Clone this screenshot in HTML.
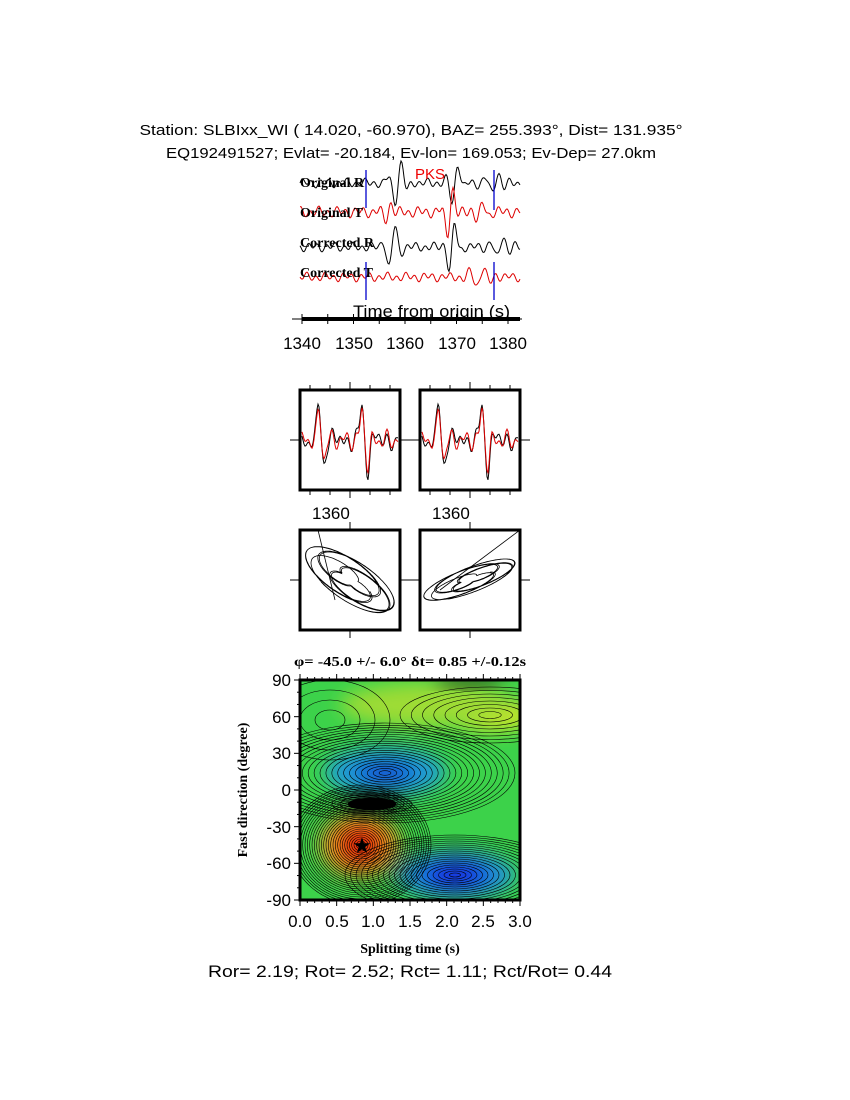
<!DOCTYPE html>
<html><head><meta charset="utf-8">
<style>
html,body{margin:0;padding:0;background:#fff;}
svg{display:block;}
.s{font-family:"Liberation Sans",sans-serif;}
.b{font-family:"Liberation Serif",serif;font-weight:bold;}
</style></head>
<body>
<svg id="sv" width="850" height="1100" viewBox="0 0 850 1100" xmlns="http://www.w3.org/2000/svg">
<defs>
<filter id="bl" x="-50%" y="-50%" width="200%" height="200%"><feGaussianBlur stdDeviation="9"/></filter>
<clipPath id="cp"><rect x="300" y="680" width="220" height="220"/></clipPath>
<clipPath id="c3"><rect x="300" y="530" width="100" height="100"/></clipPath>
<clipPath id="c4"><rect x="420" y="530" width="100" height="100"/></clipPath>
</defs>
<text class="s" x="411" y="135" font-size="15" text-anchor="middle" textLength="543" lengthAdjust="spacingAndGlyphs">Station: SLBIxx_WI (  14.020,  -60.970), BAZ=  255.393°, Dist=  131.935°</text>
<text class="s" x="411" y="158" font-size="15" text-anchor="middle" textLength="490" lengthAdjust="spacingAndGlyphs">EQ192491527; Evlat= -20.184, Ev-lon= 169.053; Ev-Dep= 27.0km</text>

<g id="waves"></g>
<text class="b" x="300" y="187" font-size="14">Original R</text>
<text class="b" x="300" y="217" font-size="14">Original T</text>
<text class="b" x="300" y="247" font-size="14">Corrected R</text>
<text class="b" x="300" y="277" font-size="14">Corrected T</text>
<text class="s" x="415" y="179" font-size="15" fill="#e00">PKS</text>
<line x1="366" y1="170" x2="366" y2="208" stroke="#00c" stroke-width="1.3"/>
<line x1="494" y1="170" x2="494" y2="210" stroke="#00c" stroke-width="1.3"/>
<line x1="366" y1="262" x2="366" y2="300" stroke="#00c" stroke-width="1.3"/>
<line x1="494" y1="262" x2="494" y2="300" stroke="#00c" stroke-width="1.3"/>
<text class="s" x="353" y="317" font-size="17" textLength="157" lengthAdjust="spacingAndGlyphs">Time from origin (s)</text>
<line x1="292" y1="319" x2="522" y2="319" stroke="#000" stroke-width="1"/>
<line x1="302" y1="319" x2="520" y2="319" stroke="#000" stroke-width="4"/>
<g id="wt"></g>
<g class="s" font-size="17" text-anchor="middle">
<text x="302" y="349">1340</text><text x="354" y="349">1350</text><text x="405" y="349">1360</text><text x="457" y="349">1370</text><text x="508" y="349">1380</text>
</g>

<g id="pm"></g>
<text class="s" x="312" y="519" font-size="17">1360</text>
<text class="s" x="432" y="519" font-size="17">1360</text>

<g clip-path="url(#cp)">
<rect x="300" y="680" width="220" height="220" fill="#3cd24a"/>
<g filter="url(#bl)">
<ellipse cx="490" cy="715" rx="45" ry="16" fill="#d8e824"/>
<ellipse cx="430" cy="705" rx="90" ry="22" fill="#9edc34"/>
<ellipse cx="385" cy="772" rx="60" ry="24" fill="#1a9ad8"/>
<ellipse cx="385" cy="773" rx="30" ry="12" fill="#1450d0"/>
<ellipse cx="455" cy="875" rx="60" ry="24" fill="#1e8fd6"/>
<ellipse cx="455" cy="875" rx="34" ry="14" fill="#1420e0"/>
<ellipse cx="360" cy="845" rx="40" ry="32" fill="#f0a020"/>
<ellipse cx="360" cy="845" rx="24" ry="22" fill="#e82a10"/>
</g>
<ellipse cx="372" cy="803" rx="30" ry="9" fill="#000" filter="url(#bl)" opacity="0.9"/>
<ellipse cx="372" cy="804" rx="24" ry="6" fill="#000"/>
<ellipse cx="470" cy="683" rx="35" ry="4" fill="#000" filter="url(#bl)"/>
<g id="ct" fill="none" stroke="#000" stroke-width="0.6"></g>
</g>
<rect x="300" y="680" width="220" height="220" fill="none" stroke="#000" stroke-width="3"/>
<text x="362" y="853" font-size="22" text-anchor="middle">★</text>
<g id="cax"></g>
<g class="s" font-size="17" text-anchor="end">
<text x="291" y="686">90</text><text x="291" y="723">60</text><text x="291" y="759">30</text><text x="291" y="796">0</text><text x="291" y="833">-30</text><text x="291" y="869">-60</text><text x="291" y="906">-90</text>
</g>
<g class="s" font-size="17" text-anchor="middle">
<text x="300" y="927">0.0</text><text x="337" y="927">0.5</text><text x="373" y="927">1.0</text><text x="410" y="927">1.5</text><text x="447" y="927">2.0</text><text x="483" y="927">2.5</text><text x="520" y="927">3.0</text>
</g>
<text class="b" x="410" y="666" font-size="14" text-anchor="middle" textLength="232" lengthAdjust="spacingAndGlyphs">φ= -45.0 +/- 6.0° δt= 0.85 +/-0.12s</text>
<text class="b" x="0" y="0" font-size="14" text-anchor="middle" transform="translate(247,790) rotate(-90)">Fast direction (degree)</text>
<text class="b" x="410" y="953" font-size="14" text-anchor="middle">Splitting time (s)</text>
<text class="s" x="410" y="977" font-size="17" text-anchor="middle" textLength="404" lengthAdjust="spacingAndGlyphs">Ror= 2.19; Rot= 2.52; Rct= 1.11; Rct/Rot= 0.44</text>
</svg>
<script>
var NS="http://www.w3.org/2000/svg";
function el(p,t,a){var e=document.createElementNS(NS,t);for(var k in a)e.setAttribute(k,a[k]);p.appendChild(e);return e;}
function wave(y0,amp,col,big,ph,x0,x1){var d="",n=0;for(var x=x0;x<=x1;x+=1){var t=(x-x0);
var a=amp*(Math.sin(t*0.7+ph)*0.6+Math.sin(t*0.31+ph*2)*0.4);
for(var i=0;i<big.length;i++){var b=big[i];a+=b[1]*Math.exp(-Math.pow((x-b[0])/b[2],2))*Math.sin((x-b[0])*0.45);}
d+=(n++?"L":"M")+x+","+(y0-a).toFixed(1);}
el(document.getElementById("waves"),"path",{d:d,fill:"none",stroke:col,"stroke-width":1});}
wave(183,5,"#000",[[398,22,9],[455,24,7],[495,10,12]],0,300,520);
wave(212,6,"#d00",[[388,10,7],[450,30,6],[480,8,10]],1,300,520);
wave(247,5,"#000",[[392,24,8],[452,30,6],[500,12,10]],2,300,520);
wave(277,5,"#d00",[[480,9,14]],3,300,520);
var wt=document.getElementById("wt");
for(var s=1340;s<=1380;s+=5){var x=302+(s-1340)*5.15;el(wt,"line",{x1:x,y1:314,x2:x,y2:324,stroke:"#000","stroke-width":1});}
var pm=document.getElementById("pm");
[[300,390],[420,390],[300,530],[420,530]].forEach(function(b,i){
var cy=b[1]+50,cx=b[0]+50;
el(pm,"line",{x1:b[0]-10,y1:cy,x2:b[0],y2:cy,stroke:"#000"});el(pm,"line",{x1:b[0]+100,y1:cy,x2:b[0]+110,y2:cy,stroke:"#000"});
el(pm,"line",{x1:cx,y1:b[1]-8,x2:cx,y2:b[1],stroke:"#000"});el(pm,"line",{x1:cx,y1:b[1]+100,x2:cx,y2:b[1]+108,stroke:"#000"});
if(i<2){for(var k=0;k<5;k++){var tx=b[0]+10+k*20;el(pm,"line",{x1:tx,y1:b[1]-5,x2:tx,y2:b[1],stroke:"#000"});el(pm,"line",{x1:tx,y1:b[1]+100,x2:tx,y2:b[1]+105,stroke:"#000"});}
["#000","#d00"].forEach(function(c,j){var d="";for(var x=b[0]+2;x<=b[0]+98;x+=1){var t=x-b[0];
var a=6*Math.sin(t*0.45+j*0.25)+5*Math.sin(t*0.8+1)+28*Math.exp(-Math.pow((t-19)/2.5,2))-18*Math.exp(-Math.pow((t-24)/2.5,2))+30*Math.exp(-Math.pow((t-62)/2.5,2))-25*Math.exp(-Math.pow((t-68)/2.5,2))+(j?0:-6*Math.sin(t*0.3));
d+=(d?"L":"M")+x+","+(cy-a).toFixed(1);}el(pm,"path",{d:d,fill:"none",stroke:c,"stroke-width":1});});}
else{var g=el(pm,"g",{"clip-path":"url(#c"+(i+1)+")"});var d="";var ang=i==3?-0.6:0.15;
for(var t=0;t<42;t+=0.04){var r=(10+38*Math.abs(Math.sin(t*0.41+0.3)));
var px=r*Math.cos(t*1.1),py=r*(i==3?0.35:0.6)*Math.sin(t*1.1+0.7);var X=cx+px*Math.cos(ang)-py*Math.sin(ang),Y=cy+px*Math.sin(ang)+py*Math.cos(ang);
d+=(d?"L":"M")+X.toFixed(1)+","+Y.toFixed(1);}
el(g,"path",{d:d,fill:"none",stroke:"#000","stroke-width":0.8});
if(i==2)el(g,"path",{d:"M318,530 L335,600",fill:"none",stroke:"#000","stroke-width":0.8});
else el(g,"path",{d:"M520,530 L440,590",fill:"none",stroke:"#000","stroke-width":0.8});}
el(pm,"rect",{x:b[0],y:b[1],width:100,height:100,fill:"none",stroke:"#000","stroke-width":3});
});
var ct=document.getElementById("ct");
[[385,773,130,50,22],[455,875,110,40,20],[361,845,70,60,30],[490,715,90,28,8],[372,804,40,10,5],[330,720,60,40,4]].forEach(function(c){
for(var k=1;k<=c[4];k++){el(ct,"ellipse",{cx:c[0],cy:c[1],rx:c[2]*k/c[4],ry:c[3]*k/c[4]});}});
var ca=document.getElementById("cax");
for(var k=0;k<=30;k++){var x=300+k*220/30;var h=k%5==0?6:3;el(ca,"line",{x1:x,y1:680,x2:x,y2:680-h,stroke:"#000"});el(ca,"line",{x1:x,y1:900,x2:x,y2:900+h,stroke:"#000"});}
for(var k=0;k<=18;k++){var y=680+k*220/18;var h=k%3==0?6:3;el(ca,"line",{x1:300-h,y1:y,x2:300,y2:y,stroke:"#000"});}
</script>
</body></html>
